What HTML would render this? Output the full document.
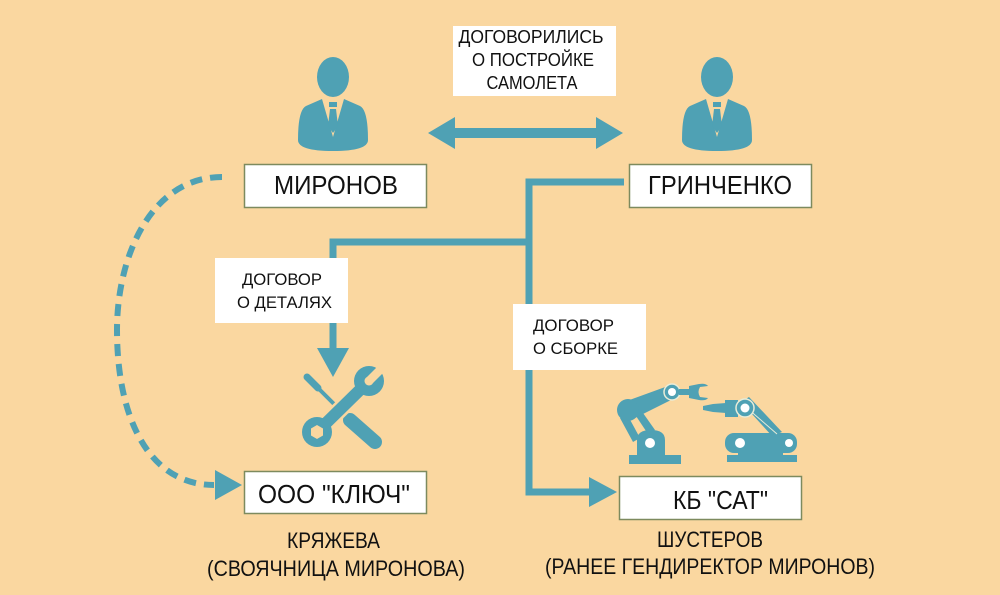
<!DOCTYPE html>
<html><head><meta charset="utf-8">
<style>
html,body{margin:0;padding:0;background:#FAD7A0;}
svg{display:block;}
text{font-family:"Liberation Sans","Noto Sans CJK SC",sans-serif;fill:#111;}
</style></head>
<body>
<svg width="1000" height="595" viewBox="0 0 1000 595" xmlns="http://www.w3.org/2000/svg">
<rect x="0" y="0" width="1000" height="595" fill="#FAD7A0"/>

<!-- connectors -->
<g fill="none" stroke="#4FA1B4" stroke-width="7">
  <polyline points="624,182 529,182 529,492 592,492"/>
  <polyline points="529,242 333,242 333,350"/>
</g>
<polygon points="317,348 349,348 333,377" fill="#4FA1B4"/>
<polygon points="589,477 617,492 589,507" fill="#4FA1B4"/>

<!-- double arrow -->
<polygon points="428,133 455,117 455,128 596,128 596,117 623,133 596,149 596,138 455,138 455,149" fill="#4FA1B4"/>

<!-- dashed curve -->
<path d="M222,177 C152,177 117,255 117,330 C117,420 150,485 214,485" fill="none" stroke="#4FA1B4" stroke-width="6" stroke-dasharray="12 8"/>
<polygon points="215,470 242,485 215,500" fill="#4FA1B4"/>

<!-- persons -->
<g fill="#4FA1B4">
  <ellipse cx="333" cy="77" rx="16" ry="20"/>
  <path d="M298,140 Q298,110 306,106 L322,99 L333,137 L344,99 L360,106 Q368,110 368,140 Q368,151 333,151 Q298,151 298,140 Z"/>
  <rect x="329" y="102" width="8" height="5"/>
  <polygon points="330,109 336,109 338,126 333,133 328,126"/>

  <ellipse cx="717" cy="77" rx="16" ry="20"/>
  <path d="M682,140 Q682,110 690,106 L706,99 L717,137 L728,99 L744,106 Q752,110 752,140 Q752,151 717,151 Q682,151 682,140 Z"/>
  <rect x="713" y="102" width="8" height="5"/>
  <polygon points="714,109 720,109 722,126 717,133 712,126"/>
</g>

<!-- top label -->
<rect x="453" y="26" width="163" height="70" fill="#fff"/>
<text x="531" y="43" font-size="18" text-anchor="middle" textLength="145" lengthAdjust="spacingAndGlyphs">ДОГОВОРИЛИСЬ</text>
<text x="533" y="66" font-size="18" text-anchor="middle" textLength="122" lengthAdjust="spacingAndGlyphs">О ПОСТРОЙКЕ</text>
<text x="532" y="89" font-size="18" text-anchor="middle" textLength="91" lengthAdjust="spacingAndGlyphs">САМОЛЕТА</text>

<!-- name boxes -->
<rect x="244.5" y="164.5" width="182" height="43" fill="#fff" stroke="#7d8a5e" stroke-width="1.5"/>
<text x="274" y="194" font-size="26" textLength="124" lengthAdjust="spacingAndGlyphs">МИРОНОВ</text>

<rect x="629.5" y="164.5" width="182" height="43" fill="#fff" stroke="#7d8a5e" stroke-width="1.5"/>
<text x="648" y="194" font-size="26" textLength="144" lengthAdjust="spacingAndGlyphs">ГРИНЧЕНКО</text>

<!-- label detali -->
<rect x="215" y="258" width="133" height="65" fill="#fff"/>
<text x="242" y="285" font-size="17" textLength="80" lengthAdjust="spacingAndGlyphs">ДОГОВОР</text>
<text x="237" y="308" font-size="17" textLength="95" lengthAdjust="spacingAndGlyphs">О ДЕТАЛЯХ</text>

<!-- label sborka -->
<rect x="513" y="304" width="133" height="66" fill="#fff"/>
<text x="533" y="331" font-size="17" textLength="81" lengthAdjust="spacingAndGlyphs">ДОГОВОР</text>
<text x="533" y="354" font-size="17" textLength="85" lengthAdjust="spacingAndGlyphs">О СБОРКЕ</text>

<!-- tools icon -->
<g>
  <!-- screwdriver -->
  <line x1="307" y1="377" x2="318" y2="388" stroke="#4FA1B4" stroke-width="7" stroke-linecap="round"/>
  <line x1="316" y1="386" x2="350" y2="420" stroke="#4FA1B4" stroke-width="4"/>
  <line x1="350" y1="420" x2="375" y2="442" stroke="#4FA1B4" stroke-width="14" stroke-linecap="round"/>
  <!-- wrench -->
  <line x1="318" y1="431" x2="368" y2="382" stroke="#FAD7A0" stroke-width="17"/>
  <line x1="318" y1="431" x2="368" y2="382" stroke="#4FA1B4" stroke-width="12"/>
  <circle cx="317" cy="432" r="15" fill="#4FA1B4"/>
  <polygon points="317,425 323,428.5 323,435.5 317,439 311,435.5 311,428.5" fill="#FAD7A0"/>
  <circle cx="369" cy="381" r="15" fill="#4FA1B4"/>
  <polygon points="365,379 371,385 392,364 386,358" fill="#FAD7A0"/>
  <circle cx="369" cy="381" r="4.5" fill="#FAD7A0"/>
</g>

<!-- robots -->
<g fill="#4FA1B4">
  <!-- left robot -->
  <rect x="629" y="455" width="52" height="9"/>
  <path d="M637,455 L637,440 Q637,430 651,430 Q665,430 665,440 L665,455 Z"/>
  <circle cx="650" cy="443" r="5" fill="#fff"/>
  <polygon points="620,418 628,416 640,438 633,442"/>
  <polygon points="636,416 643,413 655,430 648,434"/>
  <polygon points="624,402 668,386 675,398 633,419"/>
  <circle cx="628" cy="410" r="11"/>
  <circle cx="672" cy="392" r="8" stroke="#e8ecd8" stroke-width="1.5"/>
  <circle cx="672" cy="392" r="4" fill="#fff"/>
  <rect x="679" y="389" width="12" height="6"/>
  <path d="M689,386 L699,384 Q706,383 708,386 L700,387 Q697,392 700,397 L708,398 Q706,401 699,400 L689,398 Z"/>

  <!-- right robot -->
  <rect x="727" y="455" width="70" height="7"/>
  <rect x="738" y="450" width="45" height="8"/>
  <rect x="725" y="433" width="72" height="20" rx="9"/>
  <circle cx="740" cy="443" r="5" fill="#fff"/>
  <circle cx="789" cy="443" r="4" fill="#fff"/>
  <polygon points="741,402 749,397 782,432 772,436"/>
  <line x1="747" y1="408" x2="777" y2="434" stroke="#e8ecd8" stroke-width="1"/>
  <rect x="725" y="400" width="13" height="17"/>
  <polygon points="726,403 713,404 703,406 703,410 713,412 726,413"/>
  <circle cx="745" cy="408" r="9" stroke="#e8ecd8" stroke-width="1.5"/>
  <circle cx="745" cy="408" r="4.5" fill="#fff"/>
</g>

<!-- bottom boxes -->
<rect x="244.5" y="471.5" width="182" height="42" fill="#fff" stroke="#7d8a5e" stroke-width="1.5"/>
<text x="258" y="503" font-size="26" textLength="152" lengthAdjust="spacingAndGlyphs">ООО "КЛЮЧ"</text>

<rect x="619.5" y="476.5" width="182" height="43" fill="#fff" stroke="#7d8a5e" stroke-width="1.5"/>
<text x="673" y="509" font-size="26" textLength="95" lengthAdjust="spacingAndGlyphs">КБ "САТ"</text>

<!-- captions -->
<text x="287" y="548" font-size="22" textLength="93" lengthAdjust="spacingAndGlyphs">КРЯЖЕВА</text>
<text x="207" y="576" font-size="22" textLength="258" lengthAdjust="spacingAndGlyphs">(СВОЯЧНИЦА МИРОНОВА)</text>
<text x="657" y="547" font-size="22" textLength="106" lengthAdjust="spacingAndGlyphs">ШУСТЕРОВ</text>
<text x="545" y="574" font-size="22" textLength="330" lengthAdjust="spacingAndGlyphs">(РАНЕЕ ГЕНДИРЕКТОР МИРОНОВ)</text>
</svg>
</body></html>
